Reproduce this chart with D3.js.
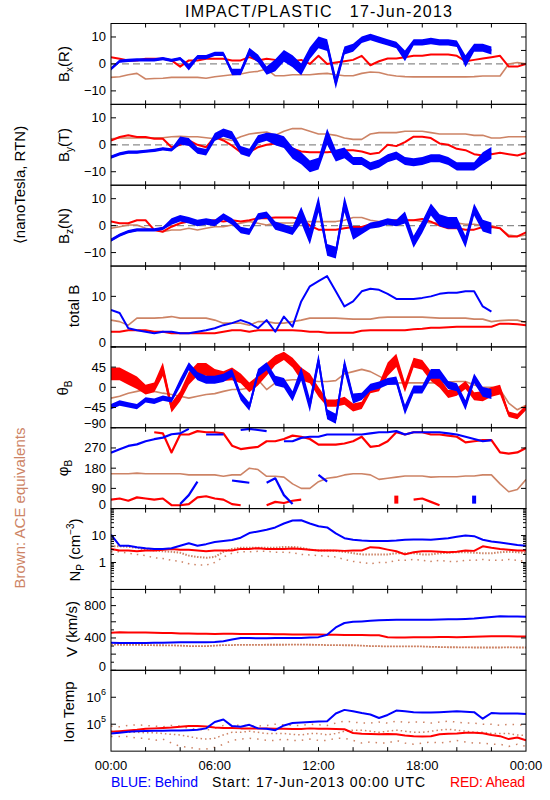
<!DOCTYPE html>
<html><head><meta charset="utf-8">
<script src="https://cdn.jsdelivr.net/npm/d3@7"></script>
<style>body{margin:0;background:#fff}svg{display:block}text{font-family:"Liberation Sans",Arial,sans-serif}</style>
</head><body><svg id="c" width="550" height="800"></svg>
<script>
// ---- data: half-hour samples from 00:00 to 24:00 (49 values) ----
const timeLabels = ["00:00","06:00","12:00","18:00","00:00"];
const timeLabelHours = [0,6,12,18,24];

const blueBx = [-1.8,1,1.3,1.5,1.5,1.5,2,1.3,2,-1.2,2.5,2.5,3.7,3.7,-3,-3,4.5,2,-2.5,
 -0.5,3,1,-2,4,8,7,-7,5,6,9,10,9,8,7,3,8,8,8.5,8,8,7.5,1,6,6,5,null,null,null,null];
const blueBxSpread = [0.6,0.6,0.6,0.6,0.6,0.6,0.6,0.6,0.6,1.2,0.8,0.8,0.8,0.8,1.2,1.2,1.5,1.5,1.5,
 2.2,2.2,2.2,2.2,2.2,2.2,2.2,2.2,1.5,1.5,1.2,1.2,1.2,1.2,1.2,2,1.2,1.2,1.2,1.2,1.2,1.2,2.2,1.5,1.5,1.5,null,null,null,null];
const redBx = [2.5,1.9,1.3,1.3,1.9,1.9,1.9,1.3,-1,1.3,1.3,1.9,1.9,1.9,1.3,1.3,2.5,1.3,1.9,
 1.5,1.5,1,1.5,0,3,0,0.5,1,1.5,3,-0.5,1,2,2,2.5,3,3,3.5,3.5,3.5,3,1,1.5,2,2.5,3,-1,-1,0];
const brownBx = [-5,-4.75,-4,-3.5,-5.6,-5.4,-5.3,-5,-5,-5,-5,-5.3,-4.75,-4.4,-4,-3.75,-3.1,-2.75,-1.9,
 -4.4,-4.4,-4,-4,-4,-3.7,-3.5,-4,-4.4,-4.4,-3.5,-3,-3.2,-4,-4.5,-4.7,-4.8,-4.8,-4.8,-4.8,-4.8,-4.8,-4.8,-4.7,-4.5,-4.5,-4.5,0,0.5,0];

const blueBy = [-4.6,-3.4,-2.75,-2.75,-2.4,-2.1,-1.5,-1.9,1.6,1,-2.1,-2.75,2.9,4.5,3.5,-2,-3,2,3,
 2,1,-3,-5,-8,-7,3,-4,-3,-6,-6,-8,-7,-5,-4,-6,-6.5,-6,-5,-5,-6,-8,-8,-8,-5,-3,null,null,null,null];
const blueBySpread = [0.6,0.6,0.6,0.6,0.6,0.6,0.6,0.6,1.5,1.5,1.2,1.2,1.5,1.5,1.5,1.5,1.5,1.5,1.5,
 2.2,2.2,2.2,2.2,2.2,2.2,3,2.2,2,1.5,1.5,1.5,1.5,1.5,1.5,1.5,1.5,1.5,1.5,1.5,1.5,1.5,1.5,1.5,2.2,2.2,null,null,null,null];
const redBy = [1.6,2.9,3.5,2.9,2.9,2.25,2.25,-0.9,0,1.6,0,-0.9,2.9,1.6,-0.3,-2.75,-2.75,-0.9,0,
 0.5,-0.5,-1.5,-2.5,-2.8,-2.8,-2.8,-2.5,-2,-2,-2.5,-3.4,-3,0,-0.5,1,3,3,2.5,0.5,0,-1.5,-2,-3.5,-4,-3.5,-3,-3.5,-4,-3];
const brownBy = [2.25,2.5,2.5,2.5,2.5,2.6,2.6,3,3.1,3,3,2.6,2.25,2.25,1.6,3,4,4.4,4.75,
 3.5,5,6,6,5,4,4,3.5,2.5,2,2,4,4.5,4.5,4.5,5,5,5,4.5,4,4,4,4,3.5,3.5,2.5,2.5,3,3,3];

const blueBz = [-5.4,-3.5,-2.25,-1.6,-1.6,-1.6,-1,1.5,2.75,2,1,1.5,1,3.4,1.5,-1.6,-2.25,3.4,4,
 0,-1,-2,4,-4,8,-9,-10,8,-3,-2,0,0.5,1.5,1,3,-6,-0.5,6,2,1,1,-6,6,0,-1,null,null,null,null];
const blueBzSpread = [0.6,0.6,0.6,0.6,0.6,0.6,0.6,1.2,1.2,1.2,1.2,1.2,1.2,1.2,1.2,1.2,1.2,1.2,1.2,
 1.5,1.5,1.5,3,3,3,2.2,2.2,3,2.2,1.2,1.2,1.2,1.2,1.2,2.2,2.2,2.2,2.2,2.2,2.2,2.2,2.2,2.2,2.2,2.2,null,null,null,null];
const redBz = [1.5,0.9,0.9,2,2,-1.6,-2.25,-0.4,0.9,1.5,0.9,1.5,2,1.5,2,1.5,2,2.75,2.75,
 3,3,3,2.5,0,-1.5,-1.5,-1.5,-1,-0.5,-0.5,0.5,1,1.5,2,2,2,2.5,1.5,0,-1,-1,-1.5,-1.5,-0.5,-0.5,-1,-4,-4,-2.5];
const brownBz = [-1,-0.4,0.25,0.25,-1,-1.6,-2.25,-1.6,-1.6,-1,-1.6,-1,-0.4,-0.4,0.25,0.9,1.5,0.9,0.25,
 1,1,1,1.5,1.5,1.5,1.5,1.5,2,3,3,2,1.5,2,2,2,2,1.5,1,1,1,1,0.5,0.5,0,0,-1,-3.5,-4,-3.5];

const blueB = [7.3,6.7,3.7,3.3,3,2.7,3,3,2.7,2.7,3,3.3,3.7,4.3,4.7,5.3,4.7,3.7,5.3,
 3,6,4,9,12,13,14,11,8,9,11,11.5,11.3,10.5,9.5,9.5,9.5,9.7,10,10.5,10.7,10.7,11,11,8,7,null,null,null,null];
const redB = [3,3,3.3,3.3,3.3,3,3,2.7,2.7,2.7,2.7,2.7,2.7,3,3.3,3.3,3,3.3,3.3,
 3.3,3.3,3.3,3.2,3,3,2.8,2.8,2.8,2.8,3.2,3.3,3.3,3.3,3.3,3.3,3.5,3.6,3.8,3.8,3.9,4,4,4,4,4,4.6,4.6,4.5,4.3];
const brownB = [5.3,5,4.3,5.7,5.7,5.7,5.8,6,5.7,5.7,5.7,5.7,5.3,4.7,4.7,4.7,4.3,5,5,
 4.7,4.7,5,5.3,5.7,5.7,5.7,5.7,5.6,5.5,5.5,5.5,5.8,5.9,5.9,5.9,5.9,5.9,5.8,5.7,5.7,5.7,5.7,5.5,5.5,5,5.2,5.3,5.3,4.8];

const blueTheta = [-43,-35,-39,-43,-28,-31,-24,-28,10,47,25,17,17,21,32,-20,-43,32,47,
 15,10,-20,30,-40,60,-60,-70,50,-25,-20,0,5,13,15,-50,-5,-5,30,30,5,0,-40,20,-10,-15,null,null,null,null];
const blueThetaSpread = [6,6,6,6,6,6,6,6,9,9,9,9,9,9,9,9,9,9,9,
 11,11,11,15,15,15,11,11,15,11,8,8,8,8,9,11,9,9,11,11,9,9,11,11,11,11,null,null,null,null];
const redTheta = [30,30,20,10,-5,0,40,-45,-20,20,40,40,30,25,30,20,0,15,40,
 60,70,55,30,20,-10,-35,-35,-30,-45,-40,-5,0,40,60,0,55,50,25,10,-15,-10,5,-20,-20,-10,-5,-60,-65,-45];
const redThetaSpread = [14,14,14,14,11,11,15,11,11,14,14,14,11,11,14,11,11,11,14,
 11,9,11,14,11,11,8,8,9,9,8,8,9,15,15,11,11,11,11,11,9,9,9,9,11,11,11,6,6,6];
const brownTheta = [-24,-20,-13,-9,-5,-9,-13,-16,-20,-24,-20,-16,-14,-9,-5,-5,-1.5,17,-5,
 10,15,17,17,15,13,13,15,30,35,40,35,25,15,10,10,10,10,10,10,12,13,13,5,0,0,-5,-35,-50,-40];

const bluePhiHigh = [249,264,279,286,300,309,316,331,335,355,null,330,330,330,null,350,355,350,345,
 null,300,300,315,320,320,330,330,330,330,330,335,340,340,345,330,340,340,340,340,335,330,320,310,300,305,null,null,null,null];
const bluePhiLow = [null,null,null,null,null,null,null,null,20,60,120,null,null,null,125,120,115,null,115,
 135,60,20,null,null,150,120,null,null,null,null,null,null,null,null,null,null,null,null,null,null,null,null,40,null,null,null,null,null,null];
const redPhiHigh = [null,null,null,null,null,340,335,250,330,330,345,340,340,335,280,265,270,275,300,
 300,310,325,320,310,285,285,285,290,300,320,275,280,300,340,330,340,340,330,330,325,320,295,300,305,305,250,245,250,270];
const redPhiLow = [40,45,35,50,45,40,45,15,15,20,50,55,45,40,20,15,null,null,15,
 30,25,35,40,null,null,null,null,null,null,null,null,null,null,40,null,40,45,30,15,null,null,null,null,null,null,null,null,null,null];
const brownPhi = [155,155,155,158,155,155,155,155,155,150,150,150,150,144,150,150,180,174,144,
 144,140,110,90,90,120,135,140,150,155,155,150,130,135,140,145,145,145,140,142,142,142,145,145,150,150,110,75,85,130];

const blueNp = [10.8,4.2,4.2,3.7,3.4,3.2,3.2,3.4,4.2,5.2,4.2,4.8,5.8,6.3,6.8,8.3,12.4,14.2,16.3,
 20,28,36,37,28,22,20,12,8,7,6.5,6.3,6.3,6.3,6.5,7,7.2,7.2,7,7.5,8,9,10,9.5,7,6,5.5,5,4.5,4.2];
const redNp = [3.2,2.8,2.8,2.6,2.8,2.8,3,3.2,3,3,2.8,2.6,2.8,2.8,2.8,3.2,3.2,3.4,3.2,
 3.2,3.2,3.3,3.2,3,2.8,2.8,2.8,2.7,2.8,2.8,3.7,3.5,3,2.6,2,2.4,2.6,2.6,2.5,2.4,2.5,2.8,2.7,4,3.5,3.2,3,2.8,2.8];
const brownNp = [4,4,3.8,3.5,3,2.8,2.6,2.5,2.3,1.8,1.6,1.5,1.6,2.5,3.2,3.5,3.5,3.5,3.5,
 3.5,3.8,3.8,3.5,3,2.8,2.8,2.7,2.5,2.2,2,2,2,2,2.2,2.2,2.2,2,2,2.2,2.3,2.4,2.4,2.3,2.2,2.2,2.4,2.5,2.4,2.3];
const brownNpLow = [2.5,2.5,2.2,2,1.8,1.5,1.4,1.2,1.1,0.9,0.8,0.8,1,1.6,2.2,2.5,2.5,2.6,2.6,
 2.4,2.4,2.3,2,1.9,1.8,1.7,1.6,1.3,1.1,1,0.9,1,1,1.2,1.2,1.3,1.2,1.1,1.2,1.1,1.1,1.2,1.2,1.3,1.2,1.2,1.3,1.2,1.1];

const blueV = [340,338,338,338,338,340,342,345,347,347,348,348,350,360,380,400,398,395,395,
 398,400,400,400,405,410,440,530,585,600,605,612,620,622,625,625,625,625,625,628,630,632,635,640,650,660,668,665,665,662];
const redV = [465,470,468,466,468,465,462,460,455,455,453,452,450,452,452,450,448,450,448,
 445,445,444,444,444,442,440,440,438,438,436,435,433,410,405,405,408,410,410,412,412,410,412,415,418,420,420,420,418,418];
const brownV = [318,316,316,315,312,310,310,308,305,300,300,298,305,312,312,315,315,315,316,316,
 316,318,318,316,315,312,312,310,310,305,300,298,296,296,295,295,295,290,288,285,285,283,282,282,282,282,285,282,282];

const blueT = [45000,48000,52000,55000,56000,57000,57000,58000,58000,60000,62000,70000,120000,150000,85000,80000,95000,70000,68000,
 60000,90000,110000,115000,120000,125000,130000,250000,340000,300000,260000,230000,170000,220000,320000,300000,280000,270000,270000,280000,290000,300000,290000,280000,160000,260000,250000,250000,250000,240000];
const redT = [52000,55000,58000,62000,68000,70000,72000,75000,80000,85000,85000,82000,75000,72000,72000,70000,70000,70000,70000,68000,
 68000,67000,67000,70000,68000,68000,67000,65000,47000,44000,43000,42000,43000,42000,38000,36000,35000,36000,42000,44000,45000,48000,48000,46000,40000,36000,28000,32000,25000];
const brownT = [55000,52000,50000,50000,48000,48000,45000,42000,40000,35000,30000,28000,30000,40000,50000,50000,55000,50000,45000,45000,
 45000,42000,40000,45000,45000,40000,45000,55000,60000,60000,55000,50000,55000,60000,55000,50000,50000,55000,60000,65000,60000,55000,50000,50000,45000,45000,45000,40000,38000];
const brownTLow = [35000,35000,35000,30000,30000,25000,28000,20000,15000,14000,12000,12000,14000,18000,25000,28000,30000,28000,25000,25000,
 28000,25000,25000,28000,25000,25000,30000,30000,25000,20000,22000,20000,20000,25000,20000,18000,20000,22000,20000,22000,25000,22000,20000,20000,18000,18000,15000,18000,15000];
const brownTHigh = [85000,80000,90000,95000,90000,85000,80000,90000,85000,70000,65000,60000,70000,90000,95000,90000,90000,85000,90000,100000,
 95000,90000,90000,100000,95000,90000,110000,130000,120000,110000,110000,120000,110000,130000,115000,120000,120000,110000,120000,130000,120000,110000,110000,100000,100000,90000,100000,95000,90000];

// ---- drawing ----
const BLUE="#0000ff", RED="#ff0000", BROWN="#cd8466";
const X0=111, X1=526, TOP=23.5, PH=80.85;
const svg=d3.select("#c");
svg.append("rect").attr("width",550).attr("height",800).attr("fill","#fff");
const x=d3.scaleLinear().domain([0,24]).range([X0,X1]);
const pts=a=>{const n=a.length-1;return a.map((v,i)=>[i*24/n,v]);};

const range=(a,b,s)=>{const r=[];for(let v=a;v<=b+1e-9;v+=s)r.push(+v.toFixed(6));return r;};
const logMinor=(lo,hi)=>{const r=[];for(let d=lo;d<hi;d*=10)for(let k=2;k<=9;k++)r.push(d*k);return r;};

const bLabels=[[10,"10"],[0,"0"],[-10,"−10"]];
const panels=[
 {type:"lin",domain:[-15,15],labels:bLabels,left:[-10,0,10],right:[-10,-5,0,5,10],zero:true,
  s:[{a:brownBx,c:BROWN,w:1.6},{a:redBx,c:RED},{a:blueBx,c:BLUE,sp:blueBxSpread}]},
 {type:"lin",domain:[-15,15],labels:bLabels,left:[-10,0,10],right:[-10,-5,0,5,10],zero:true,
  s:[{a:brownBy,c:BROWN,w:1.6},{a:redBy,c:RED},{a:blueBy,c:BLUE,sp:blueBySpread}]},
 {type:"lin",domain:[-15,15],labels:bLabels,left:[-10,0,10],right:[-10,-5,0,5,10],zero:true,
  s:[{a:brownBz,c:BROWN,w:1.6},{a:redBz,c:RED},{a:blueBz,c:BLUE,sp:blueBzSpread}]},
 {type:"lin",domain:[0,16],labels:[[10,"10"],[0,"0"]],left:[0,10],right:[5,10,15],
  s:[{a:brownB,c:BROWN,w:1.6},{a:redB,c:RED},{a:blueB,c:BLUE}]},
 {type:"lin",domain:[-90,90],labels:[[45,"45"],[0,"0"],[-45,"−45"],[-90,"−90"]],left:[-90,-45,0,45,90],right:[-45,0,45],
  s:[{a:brownTheta,c:BROWN,w:1.6},{a:redTheta,c:RED,sp:redThetaSpread},{a:blueTheta,c:BLUE,sp:blueThetaSpread}]},
 {type:"lin",domain:[0,360],labels:[[270,"270"],[180,"180"],[90,"90"],[0,"0"]],left:[0,90,180,270],right:[90,180,270],wrap:true,
  s:[{a:brownPhi,c:BROWN,w:1.6},{a:redPhiLow,c:RED},{a:redPhiHigh,c:RED},{a:bluePhiLow,c:BLUE},{a:bluePhiHigh,c:BLUE}]},
 {type:"log",domain:[0.1,100],labels:[[10,"10"],[1,"1"]],left:[1,10],leftMinor:logMinor(0.1,100),right:[1,10],rightMinor:logMinor(0.1,100),
  s:[{a:brownNpLow,c:BROWN,d:"1.5,5",w:1.5},{a:brownNp,c:BROWN,d:"1.5,1.5",w:2},{a:redNp,c:RED},{a:blueNp,c:BLUE}]},
 {type:"lin",domain:[0,1000],labels:[[800,"800"],[400,"400"],[0,"0"]],left:range(0,1000,200),leftMinor:range(100,900,200),right:range(200,800,200),
  s:[{a:brownV,c:BROWN,d:"2,1",w:1.8},{a:redV,c:RED},{a:blueV,c:BLUE}]},
 {type:"log",domain:[1e4,1e7],labels:[[1e6,"6"],[1e5,"5"]],sup:true,left:[1e5,1e6],right:[1e5,1e6],
  s:[{a:brownTLow,c:BROWN,d:"1.5,6",w:1.5},{a:brownTHigh,c:BROWN,d:"1.5,6",w:1.5},{a:brownT,c:BROWN,d:"1.5,3",w:1.5},{a:redT,c:RED},{a:blueT,c:BLUE}]}
];

panels.forEach((p,k)=>{
  const t=TOP+k*PH, b=t+PH;
  const y=(p.type==="log"?d3.scaleLog():d3.scaleLinear()).domain(p.domain).range([b,t]);
  const g=svg.append("g");
  const cid="clip"+k;
  svg.append("clipPath").attr("id",cid).append("rect").attr("x",X0).attr("y",t).attr("width",X1-X0).attr("height",PH);
  const dg=g.append("g").attr("clip-path",`url(#${cid})`);
  if(p.zero){
    dg.append("line").attr("x1",X0).attr("x2",X1).attr("y1",y(0)).attr("y2",y(0))
      .attr("stroke","#8c8c8c").attr("stroke-width",1.2).attr("stroke-dasharray","7,4");
  }
  p.s.forEach(ser=>{
    const P=pts(ser.a);
    if(ser.sp){
      // dense scatter band around the trace
      const area=d3.area().defined((d,i)=>d[1]!=null&&ser.sp[i]!=null)
        .x(d=>x(d[0])).y0((d,i)=>y(d[1]-ser.sp[i])).y1((d,i)=>y(d[1]+ser.sp[i]));
      dg.append("path").attr("d",area(P)).attr("fill",ser.c);
    }
    if(p.wrap){
      const segs=[];let cur=[];
      P.forEach((d,i)=>{ if(d[1]==null){ if(cur.length)segs.push(cur);cur=[];return;}
        if(cur.length&&Math.abs(d[1]-cur[cur.length-1][1])>=150){segs.push(cur);cur=[];} cur.push(d);});
      if(cur.length)segs.push(cur);
      const line=d3.line().x(d=>x(d[0])).y(d=>y(d[1]));
      segs.forEach(s=>{
        if(s.length>1) dg.append("path").attr("d",line(s)).attr("fill","none").attr("stroke",ser.c).attr("stroke-width",ser.w||2.2).attr("stroke-linejoin","round");
        else dg.append("rect").attr("x",x(s[0][0])-2).attr("y",y(s[0][1])-4).attr("width",4).attr("height",8).attr("fill",ser.c);
      });
      return;
    }
    const line=d3.line().defined(d=>d[1]!=null).x(d=>x(d[0])).y(d=>y(d[1]));
    dg.append("path").attr("d",line(P)).attr("fill","none").attr("stroke",ser.c)
      .attr("stroke-width",ser.w||2).attr("stroke-dasharray",ser.d||null).attr("stroke-linejoin","round");
  });
  g.append("rect").attr("x",X0).attr("y",t).attr("width",X1-X0).attr("height",PH)
    .attr("fill","none").attr("stroke","#000").attr("stroke-width",1);
  range(2,22,2).forEach(h=>{
    g.append("line").attr("x1",x(h)).attr("x2",x(h)).attr("y1",t).attr("y2",t+4).attr("stroke","#000");
    g.append("line").attr("x1",x(h)).attr("x2",x(h)).attr("y1",b-4).attr("y2",b).attr("stroke","#000");
  });
  p.left.forEach(v=>g.append("line").attr("x1",X0).attr("x2",X0+5).attr("y1",y(v)).attr("y2",y(v)).attr("stroke","#000"));
  (p.leftMinor||[]).forEach(v=>g.append("line").attr("x1",X0).attr("x2",X0+3).attr("y1",y(v)).attr("y2",y(v)).attr("stroke","#000"));
  p.right.forEach(v=>g.append("line").attr("x1",X1-5).attr("x2",X1).attr("y1",y(v)).attr("y2",y(v)).attr("stroke","#000"));
  (p.rightMinor||[]).forEach(v=>g.append("line").attr("x1",X1-3).attr("x2",X1).attr("y1",y(v)).attr("y2",y(v)).attr("stroke","#000"));
  p.labels.forEach(([v,s])=>{
    let yy=Math.min(y(v),b-4); yy=Math.max(yy,t+5);
    const tx=g.append("text").attr("x",106).attr("y",yy).attr("text-anchor","end")
      .attr("dominant-baseline","central").attr("font-size",13);
    if(p.sup){ tx.text("10"); tx.append("tspan").attr("dy",-5).attr("font-size",9).text(s); }
    else tx.text(s);
  });
});

function vtitle(cx,cy,parts,size,color){
  const tx=svg.append("text").attr("transform",`translate(${cx},${cy}) rotate(-90)`)
    .attr("text-anchor","middle").attr("font-size",size||15).attr("fill",color||"#000");
  parts.forEach(([s,mode])=>{
    const ts=tx.append("tspan").text(s);
    if(mode==="sub") ts.attr("dy",4).attr("font-size",10);
    else if(mode==="sup") ts.attr("dy",-6).attr("font-size",10);
    else if(mode==="subEnd") ts.attr("dy",-4);
    else if(mode==="supEnd") ts.attr("dy",6);
  });
}
vtitle(69,64,[["B"],["x","sub"],["(R)","subEnd"]]);
vtitle(69,145,[["B"],["y","sub"],["(T)","subEnd"]]);
vtitle(69,226,[["B"],["z","sub"],["(N)","subEnd"]]);
vtitle(79,306,[["total B"]]);
vtitle(68,388,[["θ"],["B","sub"]]);
vtitle(68,468,[["φ"],["B","sub"]]);
vtitle(80,550,[["N"],["P","sub"],[" (cm","subEnd"],["−3","sup"],[")","supEnd"]]);
vtitle(77,629,[["V (km/s)"]]);
vtitle(74,712,[["Ion Temp"]]);
vtitle(25,185,[["⟨nanoTesla, RTN)"]]);
vtitle(25,508,[["Brown: ACE equivalents"]],15,BROWN);

svg.append("text").attr("x",185).attr("y",17).attr("font-size",16).attr("textLength",267)
  .attr("lengthAdjust","spacing").text("IMPACT/PLASTIC   17-Jun-2013").attr("xml:space","preserve");

timeLabels.forEach((s,i)=>svg.append("text").attr("x",x(timeLabelHours[i])).attr("y",770)
  .attr("text-anchor","middle").attr("font-size",13).text(s));

svg.append("text").attr("x",111).attr("y",787).attr("font-size",14).attr("fill",BLUE).attr("textLength",87).text("BLUE: Behind");
svg.append("text").attr("x",212).attr("y",787).attr("font-size",14).attr("textLength",213).text("Start: 17-Jun-2013 00:00 UTC");
svg.append("text").attr("x",450).attr("y",787).attr("font-size",14).attr("fill",RED).attr("textLength",75).text("RED: Ahead");
</script></body></html>
